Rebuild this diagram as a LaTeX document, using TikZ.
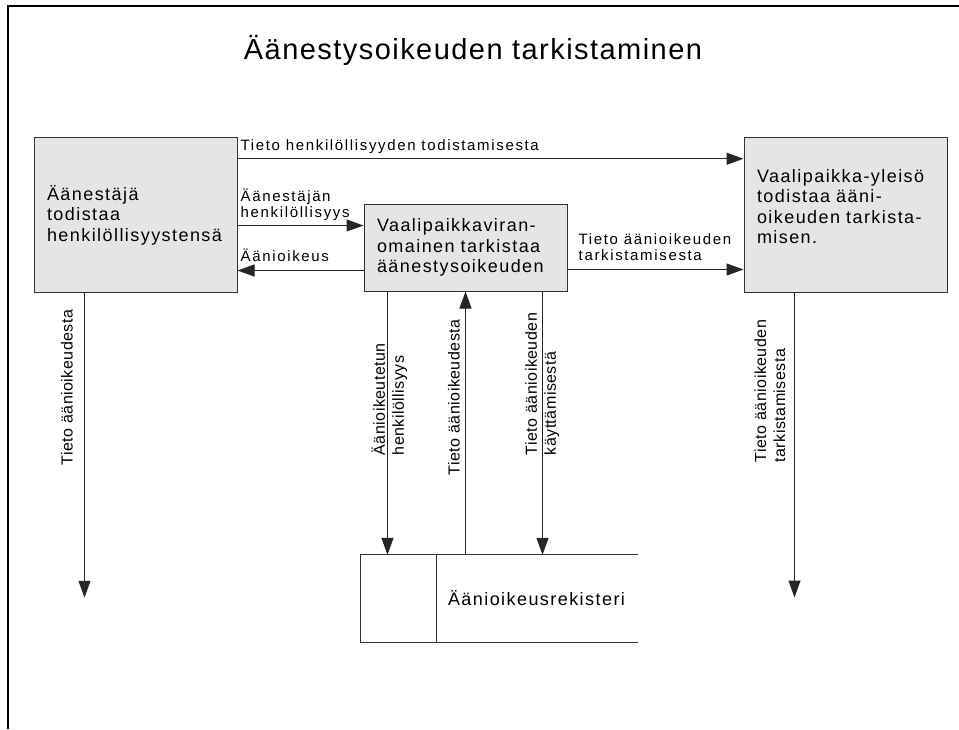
\documentclass[tikz,border=0pt]{standalone}
\usepackage{fontspec}
\setmainfont{Liberation Sans}
\newfontfamily\titlefont[LetterSpace=5]{Liberation Sans}
\newfontfamily\boxfont[LetterSpace=8]{Liberation Sans}
\newfontfamily\lblfont[LetterSpace=11]{Liberation Sans}
\newfontfamily\vlblfont[LetterSpace=3]{Liberation Sans}
\usetikzlibrary{arrows.meta}
\usetikzlibrary{positioning}
\usetikzlibrary{calc}

\begin{document}
\begin{tikzpicture}[x=1pt,y=-1pt,
  proc/.style={draw=black!80,fill=black!10,line width=1pt,minimum width=203pt,text width=177pt,inner xsep=13pt,align=left,font=\boxfont\fontsize{18}{20.5}\selectfont},
  flow/.style={draw=black!85,line width=1pt,-{Triangle[length=17pt,width=12pt]}},
  lbl/.style={inner sep=0pt,align=left,font=\lblfont\fontsize{15}{16}\selectfont},
  vlbl/.style={inner sep=0pt,align=left,rotate=90,font=\vlblfont\fontsize{16}{19}\selectfont}]
  \useasboundingbox (0,0) rectangle (959,729);
  \draw[line width=1.5pt] (8,729) -- (8,6) -- (959,6);
  \node[font=\titlefont\fontsize{29}{34}\selectfont,anchor=base] (title) at (473,59) {Äänestysoikeuden tarkistaminen};

  \node[proc,minimum height=154.5pt] (voter) at (135.5,215) {Äänestäjä\\todistaa\\henkilöllisyystensä};
  \node[proc,minimum height=87pt] (official) at (465.5,247.5) {Vaalipaikkaviran-\\omainen tarkistaa\\äänestysoikeuden};
  \node[proc,minimum height=155pt] (public) at (845.5,214.5) {Vaalipaikka-yleisö\\todistaa ääni-\\oikeuden tarkista-\\misen.\rule[-16pt]{0pt}{0pt}};

  \node[minimum width=277pt,minimum height=87pt,inner sep=0pt] (reg) at (499.5,598.5) {};
  \draw[line width=1pt,draw=black!80] (reg.north east) -- (reg.north west) -- (reg.south west) -- (reg.south east);
  \coordinate (div) at ([xshift=76pt]reg.west);
  \draw[line width=1pt,draw=black!80] (div |- reg.north) -- (div |- reg.south);
  \node[font=\boxfont\fontsize{18}{21}\selectfont,inner sep=0pt,right=11pt of div] (regname) {Äänioikeusrekisteri};

  \coordinate (a1) at ([yshift=-21.5pt]voter.north east);
  \draw[flow] (a1) -- (a1 -| public.west);
  \node[lbl,anchor=base west] (a1lbl) at ([shift={(3pt,8pt)}]a1) {Tieto henkilöllisyyden todistamisesta};

  \coordinate (a2) at ([yshift=-22pt]official.north west);
  \coordinate (a2s) at (a2 -| voter.east);
  \draw[flow] (a2s) -- (a2);
  \node[lbl,anchor=south west] (a2lbl) at ([shift={(3pt,5pt)}]a2s) {Äänestäjän\\henkilöllisyys};

  \coordinate (a3) at ([yshift=21pt]official.south west);
  \coordinate (a3s) at (a3 -| voter.east);
  \draw[flow] (a3) -- (a3s);
  \node[lbl,anchor=base west] (a3lbl) at ([shift={(3pt,9pt)}]a3s) {Äänioikeus};

  \coordinate (a4) at ([yshift=22pt]official.south east);
  \draw[flow] (a4) -- (a4 -| public.west);
  \node[lbl,anchor=south west] (a4lbl) at ([shift={(11pt,9pt)}]a4) {Tieto äänioikeuden\\tarkistamisesta};

  \coordinate (v1) at ([xshift=51pt]voter.south west);
  \coordinate (v1e) at ([yshift=-305pt]v1);
  \draw[flow] (v1) -- (v1e);
  \node[vlbl,anchor=base west] (v1lbl) at ([shift={(-12pt,-173pt)}]v1) {Tieto äänioikeudesta};

  \coordinate (v2) at ([xshift=24pt]official.south west);
  \draw[flow] (v2) -- (v2 |- reg.north);
  \node[vlbl,anchor=south west] (v2lbl) at ([shift={(20pt,-164pt)}]v2) {Äänioikeutetun\\henkilöllisyys};

  \coordinate (v3) at (official.south);
  \draw[flow] (v3 |- reg.north) -- (v3);
  \node[vlbl,anchor=base west] (v3lbl) at ([shift={(-6pt,-184pt)}]v3) {Tieto äänioikeudesta};

  \coordinate (v4) at ([xshift=-25pt]official.south east);
  \draw[flow] (v4) -- (v4 |- reg.north);
  \node[vlbl,anchor=south west] (v4lbl) at ([shift={(17pt,-164pt)}]v4) {Tieto äänioikeuden\\käyttämisestä};

  \coordinate (v5) at ([xshift=51pt]public.south west);
  \coordinate (v5e) at ([yshift=-305pt]v5);
  \draw[flow] (v5) -- (v5e);
  \node[vlbl,anchor=south west] (v5lbl) at ([shift={(-9pt,-170pt)}]v5) {Tieto äänioikeuden\\tarkistamisesta};
\end{tikzpicture}
\end{document}
